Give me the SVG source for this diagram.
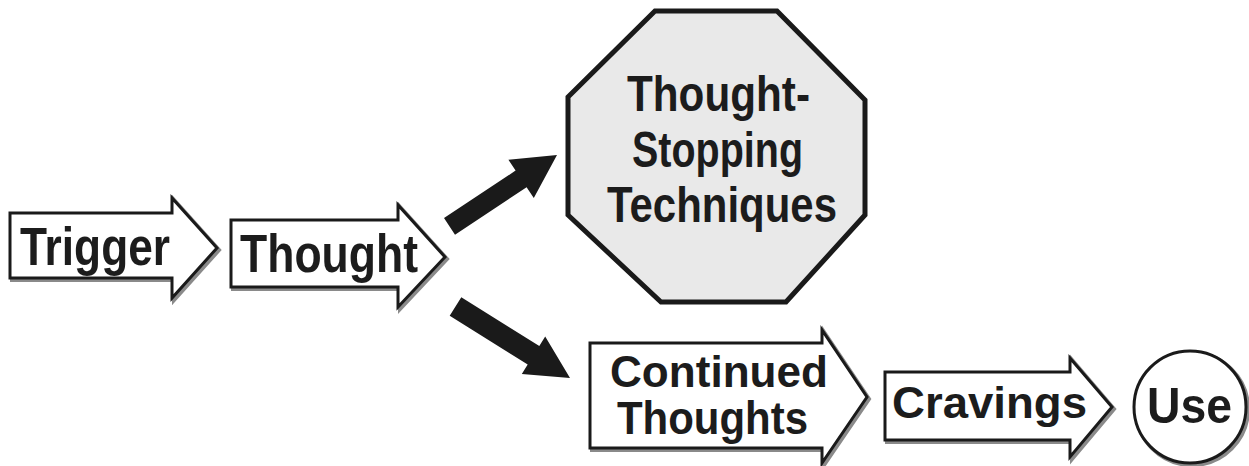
<svg xmlns="http://www.w3.org/2000/svg" width="1249" height="466" viewBox="0 0 1249 466">
<style>
.bg{fill:#ffffff}
.shadow{fill:none;stroke:#8a8a8a;stroke-width:4;stroke-linejoin:miter}
.box{fill:#ffffff;stroke:#1a1a1a;stroke-width:3;stroke-linejoin:miter}
.oct{fill:#e9e9e9;stroke:#1a1a1a;stroke-width:5;stroke-linejoin:miter}
.lbl{font-family:"Liberation Sans",Arial,sans-serif;font-weight:bold;fill:#1c1c1c}
.conn{fill:#1a1a1a;stroke:none}
</style>
<rect class="bg" x="0" y="0" width="1249" height="466"/>

<g id="trigger">
  <polygon class="shadow" points="10,213 172,213 172,198 217,248 172,298 172,278 10,278" transform="translate(2,2)"/>
  <polygon class="box" points="10,213 172,213 172,198 217,248 172,298 172,278 10,278"/>
  <text class="lbl" x="20" y="265" font-size="54" textLength="150" lengthAdjust="spacingAndGlyphs">Trigger</text>
</g>

<g id="thought">
  <polygon class="shadow" points="231,220 398,220 398,205 445,257 398,307 398,287 231,287" transform="translate(2,2)"/>
  <polygon class="box" points="231,220 398,220 398,205 445,257 398,307 398,287 231,287"/>
  <text class="lbl" x="240" y="272" font-size="54" textLength="178" lengthAdjust="spacingAndGlyphs">Thought</text>
</g>

<g id="thought-stopping">
  <polygon class="oct" points="655,11 777,11 865,100 865,215 786,302 661,302 568,215 568,97"/>
  <text class="lbl" x="627" y="111" font-size="50" textLength="183" lengthAdjust="spacingAndGlyphs">Thought-</text>
  <text class="lbl" x="632" y="167" font-size="50" textLength="171" lengthAdjust="spacingAndGlyphs">Stopping</text>
  <text class="lbl" x="607" y="222" font-size="50" textLength="230" lengthAdjust="spacingAndGlyphs">Techniques</text>
</g>

<g id="continued-thoughts">
  <polygon class="shadow" points="590,343 822,343 822,330 867,397 822,463 822,448 590,448" transform="translate(2,2)"/>
  <polygon class="box" points="590,343 822,343 822,330 867,397 822,463 822,448 590,448"/>
  <text class="lbl" x="610" y="387" font-size="44" textLength="218" lengthAdjust="spacingAndGlyphs">Continued</text>
  <text class="lbl" x="617" y="434" font-size="46" textLength="191" lengthAdjust="spacingAndGlyphs">Thoughts</text>
</g>

<g id="cravings">
  <polygon class="shadow" points="885,372 1070,372 1070,358 1112,407 1070,457 1070,440 885,440" transform="translate(2,2)"/>
  <polygon class="box" points="885,372 1070,372 1070,358 1112,407 1070,457 1070,440 885,440"/>
  <text class="lbl" x="892" y="418" font-size="44" textLength="195" lengthAdjust="spacingAndGlyphs">Cravings</text>
</g>

<g id="use">
  <circle class="shadow" cx="1192" cy="409" r="56"/>
  <circle class="box" cx="1190" cy="407" r="56"/>
  <text class="lbl" x="1147" y="423" font-size="50" textLength="85" lengthAdjust="spacingAndGlyphs">Use</text>
</g>

<g id="connectors">
  <polygon class="conn" points="444,218 515.6,170.6 508.4,159.7 557,155 533.8,198.1 526.6,187.2 455,234.8"/>
  <polygon class="conn" points="461.3,297.2 539.3,346 545.2,336.6 570,378 521.8,374 527.7,364.6 449.7,315.8"/>
</g>
</svg>
